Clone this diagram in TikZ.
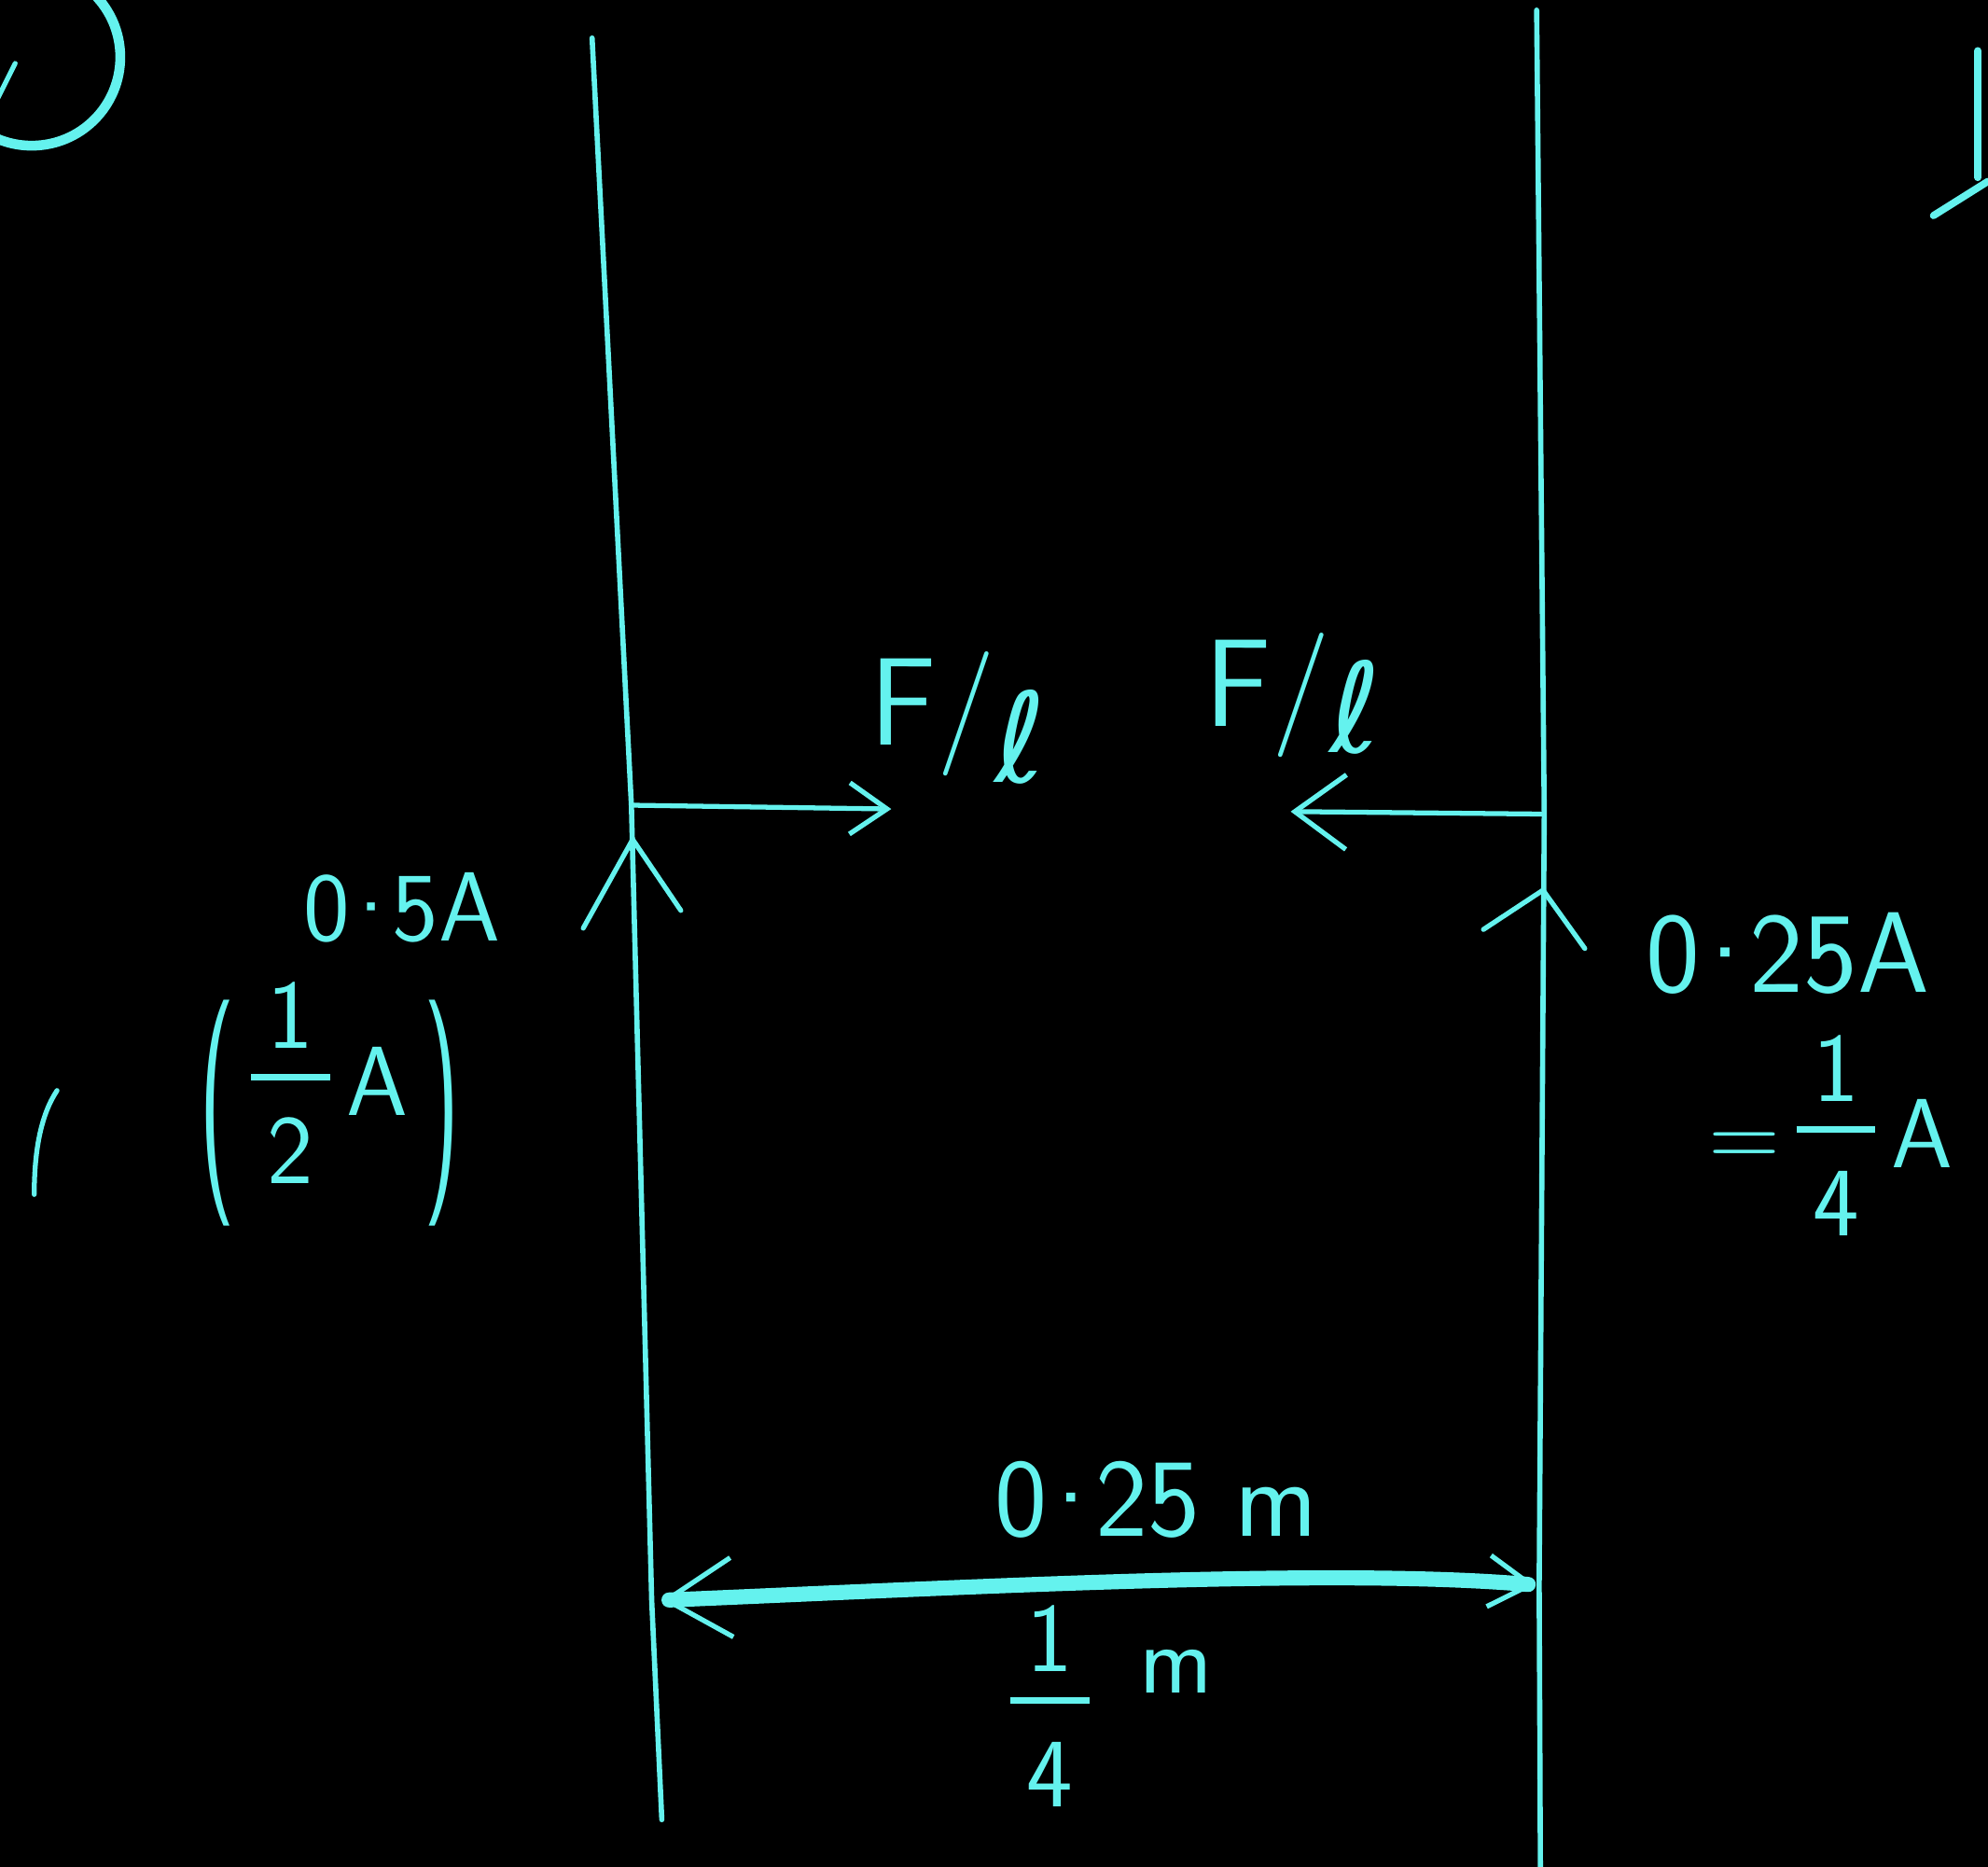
\documentclass[tikz,border=0pt]{standalone}
\usepackage{fontspec}
\usepackage{graphicx}
\usetikzlibrary{arrows.meta,positioning}
\newfontfamily\ellfont{DejaVu Sans}
\definecolor{chalk}{RGB}{100,242,238}
\tikzset{
  wire/.style={draw=chalk, line width=1.6pt, line cap=round, line join=round},
  ink/.style={draw=chalk, line width=1.5pt, line cap=round, line join=round},
  force/.style={ink},
  dimline/.style={draw=chalk, line width=4.6pt, line cap=round},
  lab/.style={text=chalk, inner sep=1pt,
              font=\sffamily\fontsize{30}{32}\selectfont},
  biglab/.style={lab, font=\sffamily\fontsize{38}{40}\selectfont},
}
\newcommand{\hfrac}[2]{\setlength{\arrayrulewidth}{2pt}%
  \begin{tabular}{@{\,}c@{\,}}#1\\[-2pt]\hline\rule{0pt}{1.05em}#2\end{tabular}}
\newcommand{\tallparen}[1]{\raisebox{-.55em}{\scalebox{1}[2.3]{#1}}}
\newcommand{\ellsign}{{\ellfont ℓ}}
\newcommand{\pdot}{\kern-.15em\textperiodcentered\kern-.15em}

\begin{document}
\begin{tikzpicture}[x=0.0136cm, y=-0.0136cm]

% board
\useasboundingbox (0,0) rectangle (1568,1472);
\clip (0,0) rectangle (1568,1472);
\fill[black] (0,0) rectangle (1568,1472);

% wires
\coordinate (ltop) at (467,30);
\coordinate (lmid) at (498,635);
\coordinate (lhead) at (499,662);
\coordinate (ldim) at (514,1262);
\coordinate (lbot) at (522,1435);
\coordinate (rtop) at (1212,8);
\coordinate (rmid) at (1218,642);
\coordinate (rhead) at (1217,702);
\coordinate (rdim) at (1214,1250);
\coordinate (rbot) at (1215,1480);
\draw[wire] (ltop) -- (lmid) -- (ldim) -- (lbot);
\draw[wire] (rtop) -- (rmid) -- (rdim) -- (rbot);

% currents
\draw[ink] (460,732) -- (lhead) -- (537,718);
\draw[ink] (1170,733) -- (rhead) -- (1250,748);
\node[lab] (lI) at (317,716) {0\pdot5A};
\node[lab, font=\sffamily\fontsize{35}{37}\selectfont] (rI) at (1410,752) {0\pdot25A};
\node[lab] (lIfrac) at (260,868)
  {\tallparen{(}\,\hfrac{1}{2}\,A\,\tallparen{)}};
\draw[ink] (27,942) .. controls (27,905) and (33,878) .. (45,860);
\node[lab] (rIfrac) at (1444,905) {=\,\hfrac{1}{4}\,A};

% forces
\coordinate (lF) at (703,638);
\coordinate (rF) at (1018,640);
\draw[force, -{Straight Barb[length=4mm,width=5.5mm]}] (lmid) -- (lF);
\draw[force, -{Straight Barb[length=5.5mm,width=8mm]}] (rmid) -- (rF);
\node[biglab] (lFl) at (756,566) {F/\raisebox{-.7ex}{\ellsign}};
\node[biglab] (rFl) at (1020,548) {F/\raisebox{-.5ex}{\ellsign}};

% separation
\coordinate (dl) at (522,1262);
\coordinate (dr) at (1211,1250);
\draw[dimline,
  {Straight Barb[length=7mm,width=8.5mm,line width=1.5pt]}-{Straight Barb[length=4.5mm,width=5.5mm,line width=1.5pt]}]
  (dl) .. controls (760,1252) and (1050,1236) .. (dr);
\node[lab, font=\sffamily\fontsize{34}{36}\selectfont] (gap) at (912,1183) {0\pdot25 m};
\node[lab] (gapfrac) at (828,1355) {\hfrac{1}{4}};
\node[lab, right=0.45cm of gapfrac, yshift=0.5cm] (gapm) {m};

% margin marks
\draw[ink, line width=3pt] (25,45) circle[radius=0.95cm];
\draw[ink] (-3,80) -- (6,62) -- (12,50);
\draw[ink, line width=2.2pt] (1560,40) -- (1560,140);
\draw[ink, line width=2.2pt] (1525,170) -- (1568,143);

\end{tikzpicture}
\end{document}
